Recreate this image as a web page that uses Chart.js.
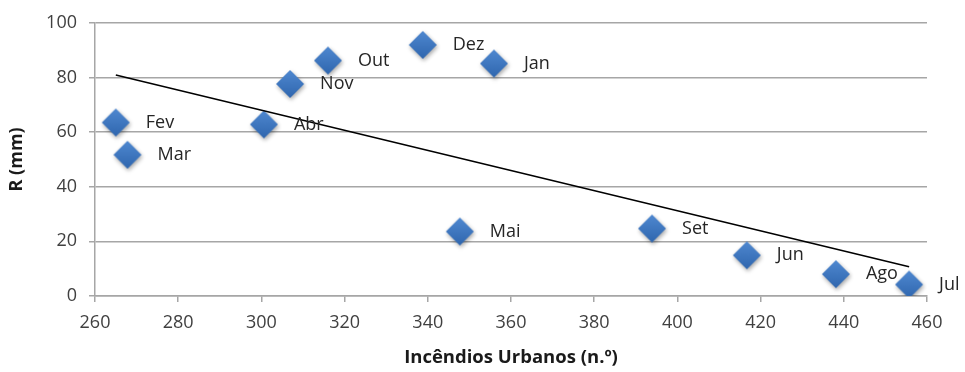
<!DOCTYPE html>
<html>
<head>
<meta charset="utf-8">
<script src="https://cdn.jsdelivr.net/npm/chart.js@4/dist/chart.umd.min.js"></script>
<style>
  html, body { margin: 0; padding: 0; background: #ffffff; }
  #wrap { width: 965px; height: 372px; }
</style>
</head>
<body>
<div id="wrap"><canvas id="c" width="965" height="372"></canvas></div>
<script>
// Months and their (urban fires, rainfall) pairs
const months = ['Fev', 'Mar', 'Abr', 'Nov', 'Out', 'Dez', 'Jan', 'Mai', 'Set', 'Jun', 'Ago', 'Jul'];
const fires  = [265, 267.8, 300.6, 306.9, 316, 338.8, 355.9, 347.7, 393.9, 416.7, 438.1, 455.7];
const rain   = [63.5, 51.7, 62.8, 77.6, 86.2, 91.9, 85.1, 23.6, 24.7, 14.9, 8.0, 4.2];

// Axis ranges
const xTicks = [260, 280, 300, 320, 340, 360, 380, 400, 420, 440, 460];
const yTicks = [0, 20, 40, 60, 80, 100];

// Least-squares linear trend through the points
function linearFit(xs, ys) {
  const n = xs.length;
  const mx = xs.reduce((a, b) => a + b, 0) / n;
  const my = ys.reduce((a, b) => a + b, 0) / n;
  let sxy = 0, sxx = 0;
  for (let i = 0; i < n; i++) {
    sxy += (xs[i] - mx) * (ys[i] - my);
    sxx += (xs[i] - mx) * (xs[i] - mx);
  }
  const slope = sxy / sxx;
  return { slope, intercept: my - slope * mx };
}
const fit = linearFit(fires, rain);
const xMin = Math.min(...fires), xMax = Math.max(...fires);
const trend = [
  { x: xMin, y: fit.intercept + fit.slope * xMin },
  { x: xMax, y: fit.intercept + fit.slope * xMax }
];

// Shaded diamond marker
function makeDiamond(r) {
  const size = r * 2 + 12;
  const cv = document.createElement('canvas');
  cv.width = size; cv.height = size;
  const g = cv.getContext('2d');
  const c = size / 2;
  g.shadowColor = 'rgba(0,0,0,0.35)';
  g.shadowBlur = 4;
  g.shadowOffsetX = 1;
  g.shadowOffsetY = 2;
  const grad = g.createLinearGradient(0, c - r, 0, c + r);
  grad.addColorStop(0, '#4F88D0');
  grad.addColorStop(1, '#2F66AE');
  g.fillStyle = grad;
  g.beginPath();
  g.moveTo(c, c - r);
  g.lineTo(c + r, c);
  g.lineTo(c, c + r);
  g.lineTo(c - r, c);
  g.closePath();
  g.fill();
  return cv;
}
const diamond = makeDiamond(14);

const FONT = '"Open Sans", "DejaVu Sans", sans-serif';

// Month names written to the right of each marker
const pointLabels = {
  id: 'pointLabels',
  afterDatasetsDraw(chart) {
    const meta = chart.getDatasetMeta(0);
    const ctx = chart.ctx;
    ctx.save();
    ctx.font = '18px ' + FONT;
    ctx.fillStyle = '#262626';
    ctx.textAlign = 'left';
    ctx.textBaseline = 'middle';
    meta.data.forEach((el, i) => {
      ctx.fillText(months[i], el.x + 30, el.y);
    });
    ctx.restore();
  }
};

new Chart(document.getElementById('c'), {
  data: {
    datasets: [
      {
        type: 'scatter',
        data: fires.map((x, i) => ({ x, y: rain[i] })),
        pointStyle: diamond,
        pointRadius: 14,
        order: 2
      },
      {
        type: 'line',
        data: trend,
        borderColor: '#000000',
        borderWidth: 1.5,
        pointRadius: 0,
        fill: false,
        order: 1
      }
    ]
  },
  options: {
    responsive: false,
    animation: false,
    events: [],
    layout: { padding: { top: 18, right: 38, left: 0, bottom: 0 } },
    plugins: { legend: { display: false }, tooltip: { enabled: false } },
    scales: {
      x: {
        type: 'linear',
        min: xTicks[0],
        max: xTicks[xTicks.length - 1],
        afterBuildTicks: s => { s.ticks = xTicks.map(v => ({ value: v })); },
        afterFit: s => { s.height = 76; },
        border: { display: true, color: '#a6a6a6', width: 1.5 },
        grid: { display: true, drawOnChartArea: false, drawTicks: true, tickLength: 6, color: '#a6a6a6', lineWidth: 1.5 },
        ticks: { font: { family: FONT, size: 18 }, color: '#404040', padding: 10, maxRotation: 0 },
        title: {
          display: true,
          text: 'Incêndios Urbanos (n.º)',
          font: { family: FONT, size: 18.5, weight: 'bold' },
          color: '#1a1a1a',
          padding: { top: 0, bottom: 3 }
        }
      },
      y: {
        type: 'linear',
        min: yTicks[0],
        max: yTicks[yTicks.length - 1],
        afterBuildTicks: s => { s.ticks = yTicks.map(v => ({ value: v })); },
        afterFit: s => { s.width = 95; },
        border: { display: true, color: '#a6a6a6', width: 1.5 },
        grid: { display: true, drawOnChartArea: true, drawTicks: true, tickLength: 6, color: '#a6a6a6', lineWidth: 1.5 },
        ticks: { font: { family: FONT, size: 18 }, color: '#404040', padding: 12 },
        title: {
          display: true,
          text: 'R (mm)',
          font: { family: FONT, size: 18, weight: 'bold' },
          color: '#1a1a1a',
          padding: { top: 6, bottom: 0 }
        }
      }
    }
  },
  plugins: [pointLabels]
});
</script>
</body>
</html>
